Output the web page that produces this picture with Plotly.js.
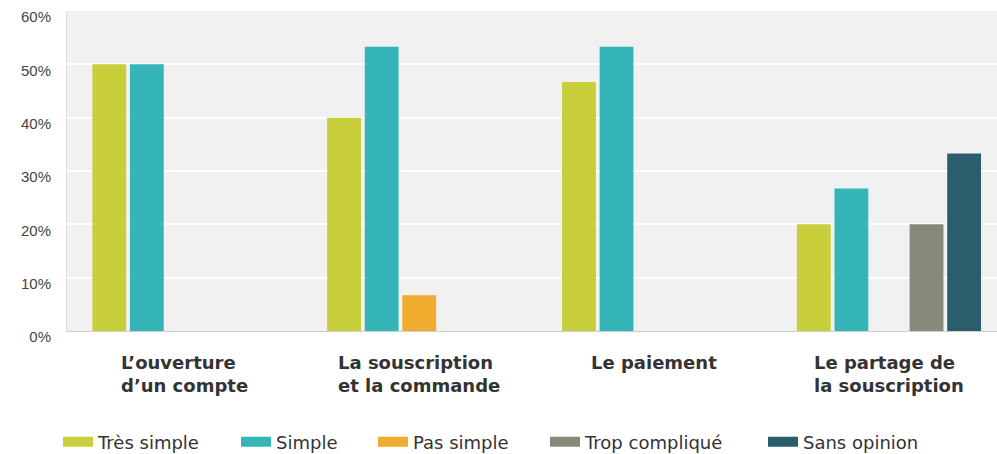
<!DOCTYPE html>
<html>
<head>
<meta charset="utf-8">
<script src="https://cdn.plot.ly/plotly-3.0.1.min.js"></script>
<style>
html,body{margin:0;padding:0;background:#fff;}
#chart{width:997px;height:454px;}
</style>
</head>
<body>
<div id="chart"></div>
<script>
const categories = ["L’ouverture<br>d’un compte", "La souscription<br>et la commande", "Le paiement", "Le partage de<br>la souscription"];
const seriesNames = ["Très simple", "Simple", "Pas simple", "Trop compliqué", "Sans opinion"];
const tresSimple = [50, 40, 46.7, 20];
const simple = [50, 53.3, 53.3, 26.7];
const pasSimple = [0, 6.7, 0, 0];
const tropComplique = [0, 0, 0, 20];
const sansOpinion = [0, 0, 0, 33.3];
const yTickVals = [0, 10, 20, 30, 40, 50, 60];
const yTickText = ["0%", "10%", "20%", "30%", "40%", "50%", "60%"];
const colors = ["#c8cf3b", "#35b5b7", "#f0ac2e", "#878a78", "#2b5e6c"];

const seriesValues = [tresSimple, simple, pasSimple, tropComplique, sansOpinion];
const legendIds = ["legend", "legend2", "legend3", "legend4", "legend5"];
const legendX = [58, 236, 373, 545, 763];

const bars = seriesValues.map((vals, i) => ({
  type: "bar",
  name: seriesNames[i],
  x: categories,
  y: vals,
  marker: {color: colors[i]},
  showlegend: false
}));
// legend-only proxies (wide swatches)
const proxies = seriesNames.map((n, i) => ({
  type: "scatter",
  mode: "lines",
  name: n,
  x: [null],
  y: [null],
  line: {color: colors[i], width: 14},
  legend: legendIds[i],
  showlegend: true,
  hoverinfo: "skip"
}));

const legendBase = {
  orientation: "h",
  xref: "container", yref: "container",
  yanchor: "middle", xanchor: "left",
  font: {size: 18, color: "#333", family: "DejaVu Sans, sans-serif"},
  bgcolor: "rgba(0,0,0,0)",
  borderwidth: 0
};

const annotations = categories.map(c => ({
  x: c, y: 0, xref: "x", yref: "y",
  text: c, showarrow: false,
  xanchor: "center", yanchor: "top", align: "left",
  yshift: -19,
  font: {size: 18, color: "#333", family: "DejaVu Sans, sans-serif", weight: "bold"}
}));

const layout = {
  width: 997,
  height: 454,
  margin: {l: 67, r: 0, t: 11, b: 123},
  paper_bgcolor: "#ffffff",
  plot_bgcolor: "#f1f1f1",
  barmode: "group",
  bargap: 0.2,
  bargroupgap: 0.1,
  font: {family: "Liberation Sans, Arial, sans-serif", color: "#444"},
  showlegend: true,
  annotations: annotations,
  xaxis: {
    type: "category",
    range: [-0.5, 3.46],
    showgrid: false,
    showline: true,
    linecolor: "#cfcfcf",
    linewidth: 1,
    ticks: "",
    showticklabels: false
  },
  yaxis: {
    range: [0, 60],
    tickvals: yTickVals,
    ticktext: yTickText,
    showgrid: true,
    gridcolor: "#ffffff",
    gridwidth: 2,
    zeroline: false,
    showline: true,
    linecolor: "#dddddd",
    ticks: "",
    tickfont: {size: 15, color: "#444"},
    ticklabelshift: 6,
    ticklabelstandoff: 12
  }
};
legendIds.forEach((id, i) => {
  layout[id] = Object.assign({}, legendBase, {x: legendX[i] / 997, y: 12 / 454});
});

Plotly.newPlot("chart", bars.concat(proxies), layout, {displayModeBar: false, staticPlot: true});
</script>
</body>
</html>
